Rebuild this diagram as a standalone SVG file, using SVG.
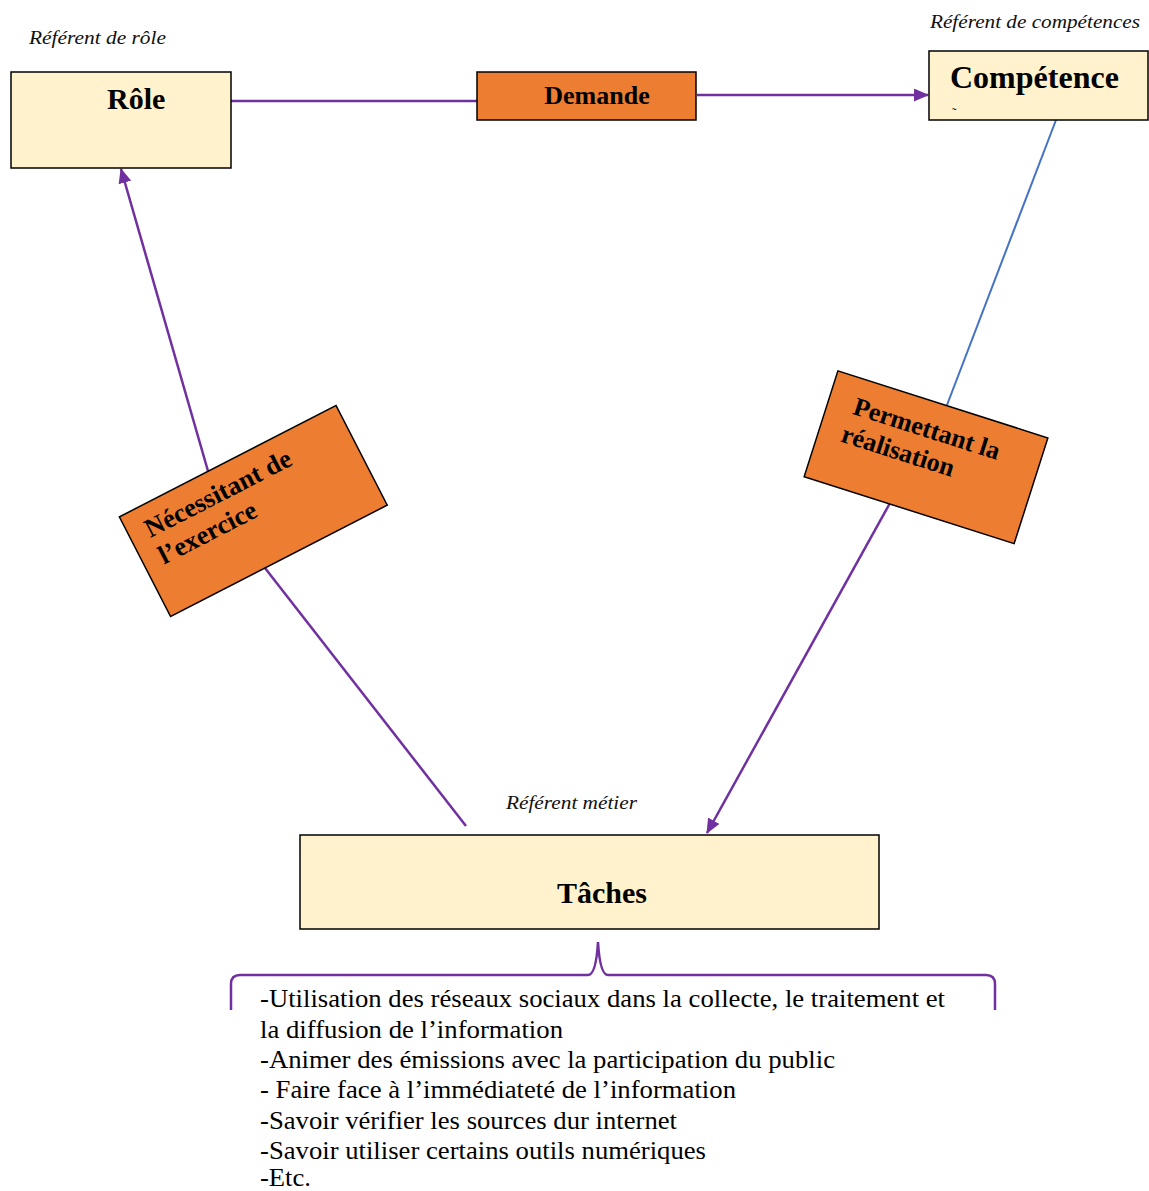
<svg xmlns="http://www.w3.org/2000/svg" width="1149" height="1191" viewBox="0 0 1149 1191">
<defs>
<style>
.box{fill:#FFF2CC;stroke:#000;stroke-width:1.5}
.lab{fill:#ED7D31;stroke:#000;stroke-width:1.5}
.b{font-family:"Liberation Serif",serif;font-weight:bold;fill:#000}
.it{font-family:"Liberation Serif",serif;font-style:italic;font-size:19.5px;fill:#111}
.lst{font-family:"Liberation Serif",serif;font-size:25.5px;fill:#000}
.p{stroke:#7030A0;stroke-width:2.5;fill:none}
</style>
<marker id="ah" viewBox="0 0 15 13" markerWidth="15" markerHeight="13" refX="14" refY="6.5" orient="auto" markerUnits="userSpaceOnUse">
<path d="M0,0 L15,6.5 L0,13 z" fill="#7030A0"/>
</marker>
</defs>
<rect width="1149" height="1191" fill="#fff"/>

<g id="connectors">
<line class="p" x1="231" y1="101" x2="477" y2="101"/>
<line class="p" x1="697" y1="95" x2="928" y2="95" marker-end="url(#ah)"/>
<line x1="1056" y1="120" x2="947" y2="405" stroke="#4472C4" stroke-width="2"/>
<line class="p" x1="210" y1="478" x2="121" y2="169" marker-end="url(#ah)"/>
<line class="p" x1="265" y1="568" x2="466" y2="826"/>
<line class="p" x1="890" y1="503" x2="707" y2="833" marker-end="url(#ah)"/>
<path class="p" stroke-width="3.5" d="M231,1010 L231,984 Q231,975 240,975 L588,975 Q596,975 598,942 Q600,975 608,975 L986,975 Q995,975 995,984 L995,1010"/>
</g>

<g id="role">
<text class="it" x="29" y="44" textLength="137" lengthAdjust="spacingAndGlyphs">Référent de rôle</text>
<rect class="box" x="11" y="72" width="220" height="96"/>
<text class="b" x="107" y="109" font-size="30">Rôle</text>
</g>

<g id="demande">
<rect class="lab" x="477" y="72" width="219" height="48"/>
<text class="b" x="597" y="104" font-size="26" text-anchor="middle">Demande</text>
</g>

<g id="competence">
<text class="it" x="930" y="28" textLength="210" lengthAdjust="spacingAndGlyphs">Référent de compétences</text>
<rect class="box" x="929" y="51" width="219" height="69"/>
<text class="b" x="950" y="88" font-size="32">Compétence</text>
<text x="952" y="117" font-family="Liberation Serif,serif" font-size="13" fill="#000">˜</text>
</g>

<g id="necessitant" transform="translate(253.3,511) rotate(-27.2)">
<rect class="lab" x="-121.8" y="-56" width="243.6" height="112"/>
<text class="b" x="-104" y="-23" font-size="26.5">Nécessitant de</text>
<text class="b" x="-104" y="7" font-size="26.5">l’exercice</text>
</g>

<g id="permettant" transform="translate(926,457.3) rotate(17.7)">
<rect class="lab" x="-110.2" y="-55.5" width="220.4" height="111"/>
<text class="b" x="-84" y="-19" font-size="26">Permettant la</text>
<text class="b" x="-87" y="11" font-size="26">réalisation</text>
</g>

<g id="taches">
<text class="it" x="506" y="809" textLength="131" lengthAdjust="spacingAndGlyphs">Référent métier</text>
<rect class="box" x="300" y="835" width="579" height="94"/>
<text class="b" x="602" y="903" font-size="30" text-anchor="middle">Tâches</text>
</g>

<g id="liste">
<text class="lst" x="260" y="1007" textLength="685" lengthAdjust="spacingAndGlyphs">-Utilisation des réseaux sociaux dans la collecte, le traitement et</text>
<text class="lst" x="260" y="1038" textLength="303" lengthAdjust="spacingAndGlyphs">la diffusion de l’information</text>
<text class="lst" x="260" y="1068" textLength="575" lengthAdjust="spacingAndGlyphs">-Animer des émissions avec la participation du public</text>
<text class="lst" x="260" y="1098" textLength="476" lengthAdjust="spacingAndGlyphs">- Faire face à l’immédiateté de l’information</text>
<text class="lst" x="260" y="1129" textLength="417" lengthAdjust="spacingAndGlyphs">-Savoir vérifier les sources dur internet</text>
<text class="lst" x="260" y="1159" textLength="446" lengthAdjust="spacingAndGlyphs">-Savoir utiliser certains outils numériques</text>
<text class="lst" x="260" y="1186" textLength="51" lengthAdjust="spacingAndGlyphs">-Etc.</text>
</g>
</svg>
